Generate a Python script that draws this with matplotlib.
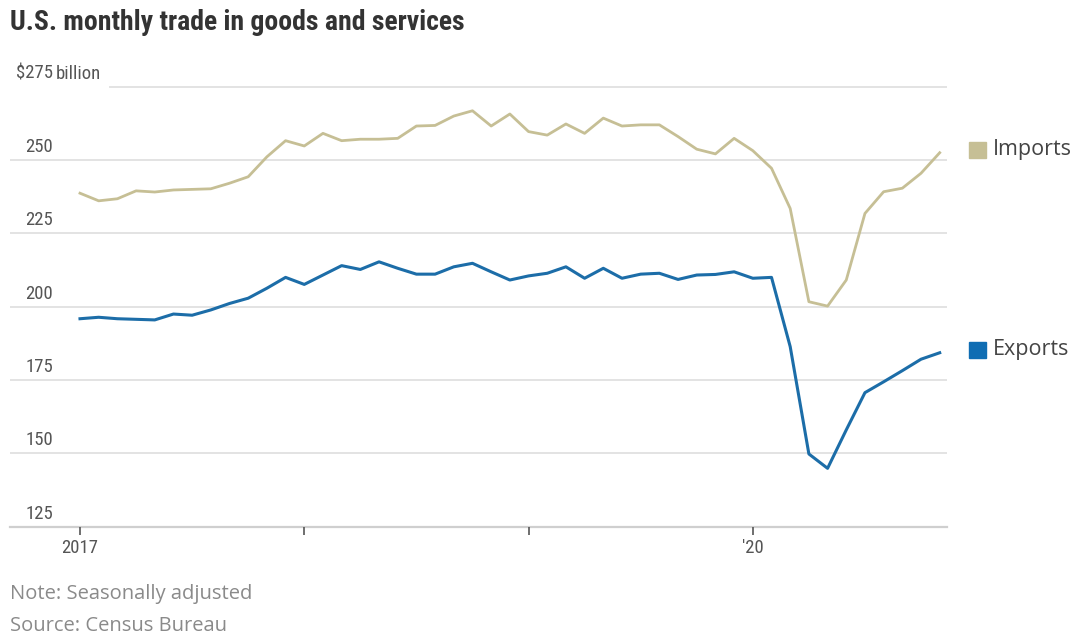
"""U.S. monthly trade in goods and services, Jan 2017 - Nov 2020 (WSJ style)."""

import matplotlib
matplotlib.use("Agg")
import matplotlib.pyplot as plt
from matplotlib import font_manager

# monthly values, $ billion, seasonally adjusted; Jan 2017 .. Nov 2020
imports = [
    238.7, 236.1, 236.8, 239.5, 239.1, 239.8, 240.0, 240.2, 242.1, 244.3, 251.1, 256.6,
    254.8, 259.1, 256.6, 257.1, 257.1, 257.4, 261.6, 261.8, 265.0, 266.8, 261.6, 265.7,
    259.7, 258.5, 262.3, 259.1, 264.3, 261.6, 262.0, 262.0, 258.0, 253.7, 252.1, 257.4,
    253.2, 247.2, 233.5, 201.7, 200.2, 209.1, 231.8, 239.2, 240.4, 245.5, 252.5,
]
exports = [
    195.9, 196.4, 195.9, 195.7, 195.5, 197.5, 197.1, 198.9, 201.1, 202.9, 206.3, 210.0,
    207.6, 210.8, 214.0, 212.7, 215.3, 213.1, 211.1, 211.1, 213.6, 214.8, 211.9, 209.1,
    210.5, 211.4, 213.6, 209.7, 213.1, 209.7, 211.1, 211.4, 209.3, 210.8, 211.0, 211.9,
    209.7, 210.0, 186.4, 149.8, 144.9, 158.0, 170.7, 174.4, 178.2, 182.1, 184.3,
]
months = list(range(len(imports)))

year_ticks = [0, 12, 24, 36]
year_labels = ["2017", "", "", "'20"]
grid_values = [150, 175, 200, 225, 250, 275]

IMP_COLOR = "#c6bf95"
EXP_COLOR = "#1c6da8"

W, H = 1085, 639


def pick(*names):
    have = {f.name for f in font_manager.fontManager.ttflist}
    for n in names:
        if n in have:
            return n
    return "DejaVu Sans"


NARROW = pick("Liberation Sans Narrow", "Roboto Condensed", "Roboto")
REGULAR = pick("Open Sans", "Roboto", "DejaVu Sans")

fig = plt.figure(figsize=(W / 100, H / 100), dpi=100)
ax = fig.add_axes([10 / W, (H - 526.7) / H, 937 / W, (526.7 - 70) / H])
ax.set_xlim(-3.745, 46.39)
ax.set_ylim(125, 280.7)

for v in grid_values:
    xmin = 0.107 if v == 275 else 0.0
    ax.axhline(v, xmin=xmin, color="#e3e3e3", lw=1.4, zorder=0)
ax.axhline(125, color="#cfcfcf", lw=1.6, zorder=0, clip_on=False)

ax.plot(months, imports, color=IMP_COLOR, lw=2.0, solid_joinstyle="round")
ax.plot(months, exports, color=EXP_COLOR, lw=2.2, solid_joinstyle="round")

for s in ax.spines.values():
    s.set_visible(False)
ax.set_yticks([])
ax.set_xticks(year_ticks)
ax.set_xticklabels(year_labels, fontfamily=NARROW, fontsize=13.5, color="#555555")
ax.tick_params(axis="x", length=6, width=1.2, color="#555555", pad=3)

# y labels sit right-aligned above the gridlines
for v in grid_values + [125]:
    y = ax.transData.transform((0, v))[1] / fig.dpi / (H / 100)
    fig.text(53 / W, y + 4 / H, f"${v}" if v == 275 else str(v), ha="right", va="bottom",
             fontfamily=NARROW, fontsize=13.5, color="#555555")
y275 = ax.transData.transform((0, 275))[1] / fig.dpi / (H / 100)
fig.text(56 / W, y275 + 4 / H, "billion", ha="left", va="bottom",
         fontfamily=NARROW, fontsize=13.5, color="#555555")

# legend boxes at right
for label, color, yp in [("Imports", IMP_COLOR, 150), ("Exports", "#0f6db3", 350)]:
    fig.patches.append(plt.Rectangle((969 / W, (H - yp - 8) / H), 17 / W, 16 / H,
                                     transform=fig.transFigure, color=color))
    fig.text(993 / W, (H - yp) / H, label, ha="left", va="center",
             fontfamily=REGULAR, fontsize=15.5, color="#444444")

fig.text(10 / W, (H - 22) / H, "U.S. monthly trade in goods and services", ha="left",
         va="center", fontfamily=NARROW, fontweight="bold", fontsize=20, color="#333333")
fig.text(10 / W, (H - 594) / H, "Note: Seasonally adjusted", ha="left", va="center",
         fontfamily=REGULAR, fontsize=14.5, color="#8a8a8a")
fig.text(10 / W, (H - 626) / H, "Source: Census Bureau", ha="left", va="center",
         fontfamily=REGULAR, fontsize=14.5, color="#8a8a8a")

fig.savefig("out.png", dpi=100)
